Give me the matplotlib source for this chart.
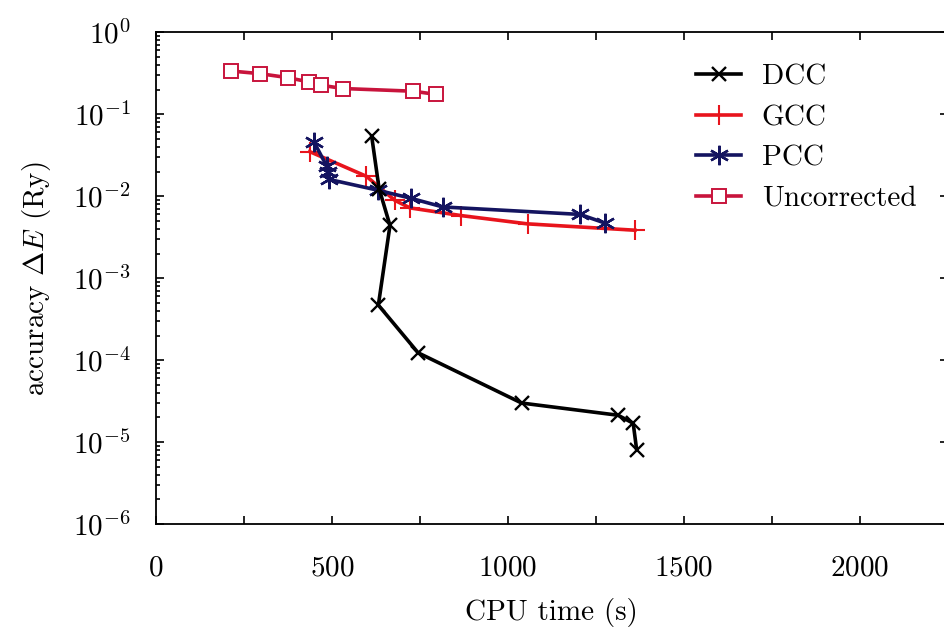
import matplotlib
matplotlib.use("Agg")
import matplotlib.pyplot as plt
from matplotlib.ticker import LogLocator, MultipleLocator, NullFormatter, LogFormatterSciNotation

plt.rcParams["font.family"] = ["cmr10", "DejaVu Serif"]
plt.rcParams["mathtext.fontset"] = "cm"
plt.rcParams["axes.formatter.use_mathtext"] = True

# data (CPU time in s, accuracy in Ry)
dccTime = [613, 634, 665, 632, 745, 1039, 1313, 1356, 1366]
dccErr = [0.054, 0.0124, 0.0044, 0.00047, 0.000123, 3.0e-5, 2.13e-5, 1.7e-5, 8.0e-6]

gccTime = [437, 598, 679, 722, 868, 1056, 1361]
gccErr = [0.035, 0.0175, 0.0089, 0.0072, 0.0058, 0.0046, 0.00385]

pccTime = [449, 485, 490, 493, 632, 726, 815, 1205, 1276]
pccErr = [0.046, 0.0234, 0.0196, 0.016, 0.0118, 0.0094, 0.0074, 0.0060, 0.0047]

uncTime = [213, 295, 374, 435, 469, 532, 731, 795]
uncErr = [0.337, 0.313, 0.280, 0.248, 0.226, 0.206, 0.191, 0.175]

fig = plt.figure(figsize=(9.45, 6.33), dpi=100)
ax = fig.add_axes([0.165, 0.172, 0.838, 0.777])

lw = 2.6
fs = 21
hUnc, = ax.plot(uncTime, uncErr, color="#c8143c", lw=lw, marker="s", ms=10,
                mfc="white", mec="#c8143c", mew=1.4, label="Uncorrected")
hGcc, = ax.plot(gccTime, gccErr, color="#e8141c", lw=lw, marker="+", ms=15,
                mew=1.5, label="GCC")
hPcc, = ax.plot(pccTime, pccErr, color="#141460", lw=lw, marker=(6, 2, 0), ms=14,
                mew=1.7, label="PCC")
hDcc, = ax.plot(dccTime, dccErr, color="black", lw=lw, marker="x", ms=10,
                mew=1.7, label="DCC")

ax.set_yscale("log")
ax.set_ylim(1e-6, 1)
ax.set_xlim(0, 2250)

ax.xaxis.set_major_locator(MultipleLocator(500))
ax.xaxis.set_minor_locator(MultipleLocator(250))
ax.yaxis.set_major_locator(LogLocator(base=10, numticks=10))
ax.yaxis.set_minor_locator(LogLocator(base=10, subs=range(2, 10), numticks=20))
ax.yaxis.set_major_formatter(LogFormatterSciNotation())
ax.yaxis.set_minor_formatter(NullFormatter())

ax.tick_params(which="both", direction="in", top=True, right=True, labelsize=fs, width=1.2)
ax.tick_params(axis="x", which="major", length=6, pad=22)
ax.tick_params(axis="x", which="minor", length=6)
ax.tick_params(axis="y", which="major", length=6, pad=18)
ax.tick_params(axis="y", which="minor", length=3)
for s in ax.spines.values():
    s.set_linewidth(1.3)

ax.set_xlabel("CPU time (s)", fontsize=fs, labelpad=12)
ax.set_ylabel(r"accuracy $\Delta E$ (Ry)", fontsize=fs, labelpad=14)

ax.legend([hDcc, hGcc, hPcc, hUnc], ["DCC", "GCC", "PCC", "Uncorrected"],
          loc="upper left", bbox_to_anchor=(0.682, 0.935), frameon=False,
          fontsize=fs, handlelength=1.55, handletextpad=0.7, labelspacing=0.48,
          borderpad=0, borderaxespad=0)

fig.savefig("out.png", dpi=100)
